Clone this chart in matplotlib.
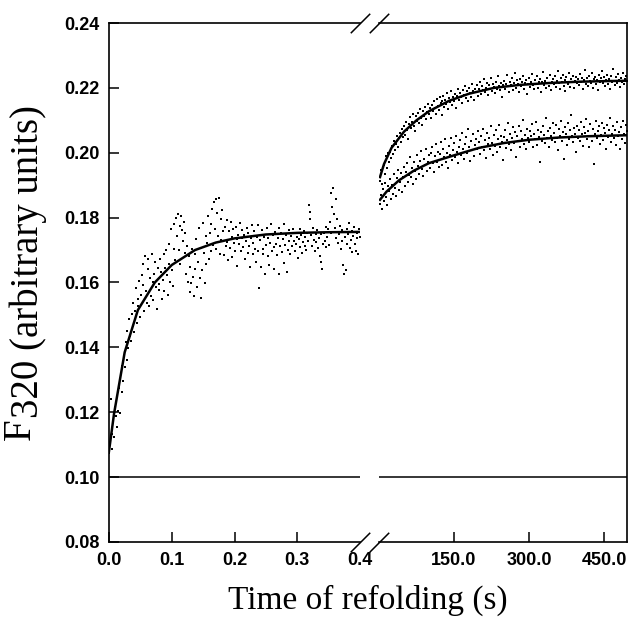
import numpy as np
import matplotlib
matplotlib.use("Agg")
import matplotlib.pyplot as plt
from matplotlib.ticker import FormatStrFormatter


# ---- fast phase (0 - 0.4 s), readings in units of 1e-4 ----
fast_time_span = (0.0, 0.4)
fast_f320 = np.array([
    1075, 1102, 1241, 1088, 1132, 1169, 1124, 1217, 1187, 1153, 1246, 1203, 1276, 1199, 1318, 1262, 1344, 1297, 1372, 1339,
    1418, 1361, 1452, 1397, 1489, 1436, 1421, 1503, 1466, 1538, 1447, 1511, 1582, 1476, 1549, 1529, 1604, 1493, 1561, 1622,
    1592, 1657, 1511, 1683, 1574, 1538, 1641, 1672, 1529, 1613, 1558, 1689, 1601, 1547, 1626, 1662, 1587, 1519, 1644, 1578,
    1596, 1671, 1632, 1548, 1609, 1687, 1574, 1645, 1699, 1623, 1562, 1718, 1656, 1601, 1764, 1639, 1589, 1702, 1781, 1668,
    1798, 1743, 1812, 1701, 1774, 1657, 1806, 1762, 1729, 1788, 1691, 1753, 1625, 1714, 1602, 1683, 1571, 1649, 1598, 1703,
    1618, 1557, 1689, 1642, 1735, 1587, 1662, 1768, 1614, 1553, 1706, 1639, 1782, 1691, 1597, 1744, 1658, 1723, 1806, 1671,
    1752, 1698, 1781, 1827, 1716, 1849, 1764, 1858, 1702, 1815, 1743, 1862, 1688, 1796, 1731, 1824, 1759, 1684, 1772, 1711,
    1793, 1726, 1668, 1758, 1705, 1787, 1741, 1679, 1764, 1722, 1698, 1771, 1733, 1652, 1747, 1719, 1784, 1696, 1738, 1761,
    1709, 1746, 1673, 1728, 1769, 1691, 1754, 1712, 1647, 1736, 1778, 1688, 1721, 1759, 1702, 1664, 1741, 1776, 1697, 1583,
    1731, 1648, 1762, 1704, 1689, 1741, 1627, 1715, 1768, 1683, 1736, 1654, 1722, 1779, 1697, 1745, 1641, 1708, 1757, 1719,
    1684, 1738, 1769, 1626, 1712, 1752, 1693, 1734, 1659, 1781, 1716, 1747, 1633, 1701, 1761, 1727, 1688, 1743, 1712, 1764,
    1729, 1697, 1752, 1718, 1741, 1676, 1733, 1766, 1709, 1745, 1692, 1724, 1758, 1712, 1739, 1701, 1752, 1727, 1838, 1796,
    1818, 1745, 1713, 1769, 1732, 1698, 1751, 1724, 1763, 1707, 1738, 1681, 1749, 1662, 1643, 1719, 1754, 1728, 1772, 1709,
    1741, 1764, 1716, 1787, 1752, 1876, 1834, 1892, 1812, 1769, 1858, 1737, 1796, 1721, 1748, 1775, 1703, 1762, 1729, 1654,
    1627, 1741, 1638, 1766, 1719, 1748, 1784, 1706, 1732, 1759, 1695, 1743, 1771, 1718, 1697, 1752, 1736, 1689, 1764, 1741,
]) / 1e4
fast_fit_t = [0.0, 0.008, 0.025, 0.046, 0.073, 0.1, 0.137, 0.17, 0.2, 0.25, 0.3, 0.35, 0.4]
fast_fit_f = [0.108, 0.1195, 0.1385, 0.1515, 0.1600, 0.1654, 0.1700, 0.1723, 0.1736, 0.1748, 0.1753, 0.1755, 0.1756]

# ---- slow phase (s), readings in units of 1e-4 ----
slow_time_span = (2.0, 496.0)
slow_upper = np.array([
    1912, 1948, 1903, 1957, 1961, 1934, 1989, 1952, 1998, 1971, 2003, 1984, 2021, 1996, 2036, 2009, 2027, 2052, 2018, 2044, 2061, 2033, 2072, 2049, 2081,
    2056, 2094, 2071, 2043, 2088, 2109, 2077, 2096, 2118, 2082, 2067, 2113, 2099, 2124, 2091, 2135, 2108, 2087, 2129, 2114, 2142, 2103, 2126, 2151, 2119,
    2137, 2106, 2148, 2129, 2159, 2138, 2121, 2166, 2144, 2132, 2171, 2152, 2117, 2158, 2176, 2141, 2163, 2149, 2184, 2135, 2168, 2155, 2191, 2146, 2172,
    2158, 2181, 2139, 2174, 2197, 2162, 2185, 2171, 2153, 2194, 2177, 2206, 2168, 2189, 2159, 2201, 2183, 2172, 2213, 2191, 2164, 2198, 2186, 2209, 2175,
    2196, 2219, 2181, 2205, 2192, 2226, 2187, 2201, 2214, 2178, 2208, 2196, 2231, 2189, 2211, 2203, 2184, 2219, 2197, 2236, 2206, 2192, 2215, 2172, 2209,
    2221, 2198, 2213, 2241, 2205, 2187, 2218, 2209, 2229, 2194, 2216, 2246, 2201, 2223, 2211, 2188, 2227, 2206, 2219, 2238, 2197, 2214, 2225, 2182, 2212,
    2229, 2203, 2218, 2244, 2209, 2196, 2224, 2213, 2237, 2201, 2219, 2228, 2186, 2217, 2249, 2208, 2222, 2199, 2231, 2214, 2206, 2239, 2193, 2218, 2227,
    2211, 2236, 2204, 2222, 2252, 2215, 2198, 2229, 2217, 2241, 2207, 2223, 2189, 2234, 2219, 2212, 2246, 2203, 2226, 2217, 2238, 2201, 2221, 2233, 2214,
    2227, 2208, 2242, 2219, 2231, 2196, 2224, 2256, 2213, 2229, 2205, 2238, 2221, 2214, 2247, 2201, 2226, 2235, 2211, 2223, 2192, 2239, 2218, 2229, 2251,
    2216, 2232, 2207, 2224, 2241, 2213, 2227, 2198, 2236, 2219, 2258, 2222, 2209, 2234, 2216, 2243, 2225, 2204, 2231, 2219, 2247, 2213, 2228, 2236, 2221,
]) / 1e4
slow_lower = np.array([
    1843, 1871, 1826, 1889, 1852, 1907, 1864, 1838, 1896, 1881, 1919, 1857, 1902, 1874, 1933, 1891, 1868, 1921, 1947, 1886, 1909, 1938, 1879, 1924, 1956,
    1897, 1942, 1968, 1911, 1931, 1987, 1924, 1952, 1903, 1971, 1944, 1919, 1993, 1958, 1936, 1976, 2004, 1949, 1927, 1982, 1961, 2011, 1945, 1973, 1992,
    1954, 1998, 2018, 1967, 1941, 1989, 2026, 1972, 2003, 1957, 1996, 2034, 1981, 1963, 2012, 1988, 2041, 1971, 1999, 1952, 2021, 1993, 2047, 1979, 2008,
    2029, 1986, 2052, 2003, 1969, 2017, 2038, 1994, 2061, 2011, 1982, 2026, 2049, 1999, 2073, 2018, 1976, 2035, 2007, 2058, 1989, 2024, 2043, 2012, 2066,
    2033, 1997, 2051, 2019, 2074, 2008, 2039, 1984, 2062, 2027, 2046, 2013, 2083, 2031, 1994, 2056, 2021, 2069, 2003, 2041, 2087, 2018, 2053, 2034, 1979,
    2048, 2071, 2016, 2039, 2092, 2026, 2058, 2007, 2044, 2079, 2031, 2063, 1988, 2052, 2036, 2084, 2019, 2067, 2042, 2101, 2028, 2055, 2011, 2073, 2046,
    2033, 2068, 2051, 2089, 2017, 2059, 2042, 2096, 2025, 2071, 2048, 1971, 2063, 2037, 2081, 2054, 2029, 2107, 2045, 2066, 2019, 2077, 2052, 2038, 2093,
    2061, 2034, 2085, 2047, 2009, 2072, 2053, 2098, 2036, 2064, 1982, 2049, 2078, 2057, 2024, 2091, 2043, 2069, 2115, 2051, 2032, 2076, 2058, 2003, 2084,
    2047, 2071, 2036, 2094, 2058, 2021, 2079, 2062, 2104, 2041, 2066, 2017, 2088, 2053, 2035, 2072, 1966, 2059, 2097, 2044, 2068, 2081, 2027, 2056, 2092,
    2039, 2075, 2061, 2012, 2087, 2048, 2069, 2106, 2033, 2057, 2083, 2046, 2071, 2024, 2095, 2052, 2064, 2011, 2078, 2043, 2099, 2058, 2031, 2086, 2067,
]) / 1e4
upper_fit_t = [2, 10, 25, 50, 75, 100, 140, 180, 230, 280, 340, 400, 460, 496]
upper_fit_f = [0.1925, 0.1965, 0.2015, 0.2065, 0.2100, 0.2128, 0.2160, 0.2182, 0.2200, 0.2209, 0.2215, 0.2219, 0.2221, 0.2222]
lower_fit_t = [2, 15, 40, 70, 100, 150, 200, 250, 300, 360, 420, 496]
lower_fit_f = [0.1855, 0.1880, 0.1915, 0.1945, 0.1968, 0.1992, 0.2015, 0.2030, 0.2040, 0.2047, 0.2051, 0.2054]

baseline_f320 = 0.10

fast_ticks = [0.0, 0.1, 0.2, 0.3, 0.4]
slow_ticks = [150, 300, 450]
y_ticks = [0.08, 0.10, 0.12, 0.14, 0.16, 0.18, 0.20, 0.22, 0.24]

SANS = "Liberation Sans"
SERIF = "Liberation Serif"

fast_t = np.linspace(*fast_time_span, len(fast_f320))
slow_t = np.linspace(*slow_time_span, len(slow_upper))

W, H = 631, 627
fig = plt.figure(figsize=(W / 100, H / 100), dpi=100)
bottom, height = 1 - 542 / H, 519 / H
ax1 = fig.add_axes([109 / W, bottom, (360 - 109) / W, height])
ax2 = fig.add_axes([379 / W, bottom, (627 - 379) / W, height], sharey=ax1)

dot = dict(ls="none", marker="s", ms=1.9, mew=0, color="k")
ax1.plot(fast_t, fast_f320, **dot)
ax1.plot(fast_fit_t, fast_fit_f, color="k", lw=1.8)
ax2.plot(slow_t, slow_upper, **dot)
ax2.plot(slow_t, slow_lower, **dot)
ax2.plot(upper_fit_t, upper_fit_f, color="k", lw=1.8)
ax2.plot(lower_fit_t, lower_fit_f, color="k", lw=1.8)

for ax in (ax1, ax2):
    ax.axhline(baseline_f320, color="k", lw=1.1)
    for s in ax.spines.values():
        s.set_linewidth(1.2)
    ax.tick_params(direction="in", length=7, width=1.1, labelsize=13, pad=7)

ax1.set_xlim(0.0, 0.4)
ax1.set_ylim(0.08, 0.24)
ax1.set_xticks(fast_ticks)
ax1.xaxis.set_major_formatter(FormatStrFormatter("%.1f"))
ax1.set_yticks(y_ticks)
ax1.yaxis.set_major_formatter(FormatStrFormatter("%.2f"))
ax1.xaxis.get_major_ticks()[-1].tick1line.set_visible(False)
ax1.spines["right"].set_visible(False)

ax2.set_xlim(0, 496)
ax2.set_xticks(slow_ticks)
ax2.xaxis.set_major_formatter(FormatStrFormatter("%.1f"))
ax2.spines["left"].set_visible(False)
ax2.tick_params(axis="y", left=False, labelleft=False)

for ax in (ax1, ax2):
    for lab in ax.get_xticklabels() + ax.get_yticklabels():
        lab.set_family(SANS)
        lab.set_weight("bold")

# break marks on the top and bottom spines
brk = dict(marker=[(-1, -1), (1, 1)], markersize=14, ls="none",
           color="k", mec="k", mew=1.1, clip_on=False)
ax1.plot([1, 1], [0, 1], transform=ax1.transAxes, **brk)
ax2.plot([0, 0], [0, 1], transform=ax2.transAxes, **brk)

fig.text(368 / W, 1 - 600 / H, "Time of refolding (s)", family=SERIF,
         fontsize=24, ha="center", va="center")
fig.text(28 / W, 1 - 418 / H, "320 (arbitrary units)", family=SERIF,
         fontsize=28, rotation=90, ha="center", va="bottom")
fig.text(20 / W, 1 - 418 / H, "F", family=SERIF,
         fontsize=28, rotation=90, ha="center", va="top")

fig.savefig("out.png", dpi=100)
